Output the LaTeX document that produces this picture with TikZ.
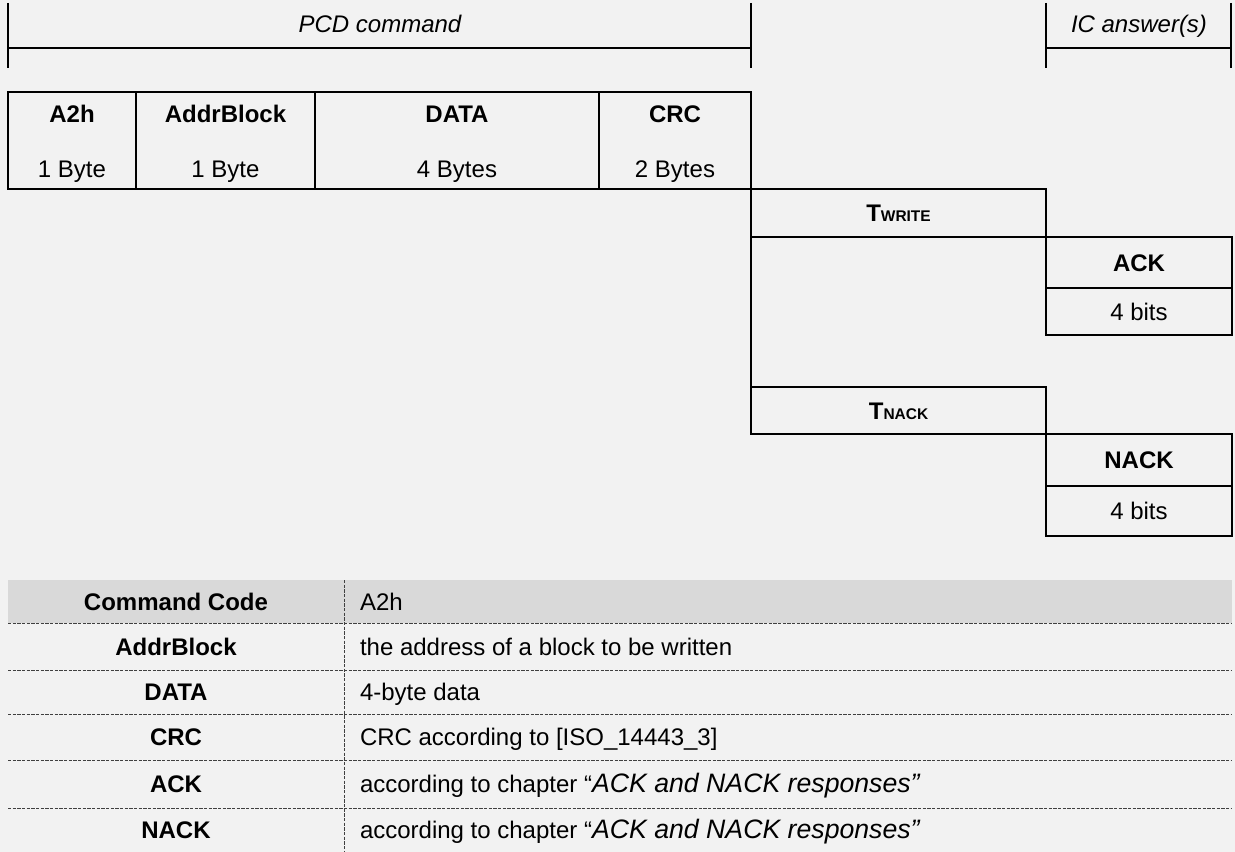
\documentclass[tikz,border=0pt]{standalone}
\usepackage{fontspec}
\setmainfont{Liberation Sans}
\definecolor{paper}{HTML}{F2F2F2}
\definecolor{headshade}{HTML}{D9D9D9}
\tikzset{
  plainnode/.style={inner sep=0pt, outer sep=0pt},
  txt/.style={plainnode, font=\fontsize{18pt}{21.6pt}\selectfont, text height=12.9pt, text depth=0pt},
  hdtxt/.style={txt, font=\fontsize{18pt}{21.6pt}\selectfont\itshape},
  strong/.style={txt, font=\fontsize{18pt}{21.6pt}\selectfont\bfseries},
  ink/.style={draw=black, line width=1.5pt},
  box/.style={plainnode, ink, anchor=north west},
  gridrule/.style={line width=0.75pt, draw=black!75, dash pattern=on 2.4pt off 1.1pt},
}
\newcommand{\timing}[1]{\textbf{T{\fontsize{11.6pt}{12pt}\selectfont #1}}}
\newcommand{\chapref}[1]{“{\fontsize{20pt}{24pt}\selectfont\itshape #1”}}
\begin{document}
\begin{tikzpicture}[x=0.75pt, y=-0.75pt]
\useasboundingbox (0,0) rectangle (1235,852);
\fill[paper] (0,0) rectangle (1235,852);

% --- direction headers ---
\node[hdtxt] (pcd) at (380,24) {PCD command};
\node[hdtxt] (ic)  at (1139,24) {IC answer(s)};
\coordinate (pcd lt) at (8,3);    \coordinate (pcd lb) at (8,68);
\coordinate (pcd rt) at (751,3);  \coordinate (pcd rb) at (751,68);
\coordinate (pcd ll) at (8,48);   \coordinate (pcd rl) at (751,48);
\coordinate (ic lt) at (1046,3);  \coordinate (ic lb) at (1046,68);
\coordinate (ic rt) at (1231,3);  \coordinate (ic rb) at (1231,68);
\coordinate (ic ll) at (1046,48); \coordinate (ic rl) at (1231,48);
\draw[ink] (pcd lt) -- (pcd lb) (pcd rt) -- (pcd rb) (pcd ll) -- (pcd rl);
\draw[ink] (ic lt) -- (ic lb) (ic rt) -- (ic rb) (ic ll) -- (ic rl);

% --- command frame ---
\node[box, minimum width=128*0.75pt, minimum height=97*0.75pt] (f a2h)  at (8,92)   {};
\node[box, minimum width=179*0.75pt, minimum height=97*0.75pt] (f addr) at (136,92) {};
\node[box, minimum width=284*0.75pt, minimum height=97*0.75pt] (f data) at (315,92) {};
\node[box, minimum width=152*0.75pt, minimum height=97*0.75pt] (f crc)  at (599,92) {};

\node[strong] (a2h name)  at (72,113.5)  {A2h};
\node[txt]    (a2h size)  at (72,169)    {1 Byte};
\node[strong] (addr name) at (225.5,113.5) {AddrBlock};
\node[txt]    (addr size) at (225.5,169)   {1 Byte};
\node[strong] (data name) at (457,113.5) {DATA};
\node[txt]    (data size) at (457,169)   {4 Bytes};
\node[strong] (crc name)  at (675,113.5) {CRC};
\node[txt]    (crc size)  at (675,169)   {2 Bytes};

% --- timings and answers ---
\node[box, txt, minimum width=295*0.75pt, minimum height=48*0.75pt] (twrite) at (751,189) {\timing{WRITE}};
\node[box, strong, minimum width=186*0.75pt, minimum height=51*0.75pt] (ack) at (1046,237) {ACK};
\node[box, txt, minimum width=186*0.75pt, minimum height=47*0.75pt] (ack bits) at (1046,288) {4 bits};

\node[box, txt, minimum width=295*0.75pt, minimum height=47*0.75pt] (tnack) at (751,387) {\timing{NACK}};
\node[box, strong, minimum width=186*0.75pt, minimum height=52*0.75pt] (nack) at (1046,434) {NACK};
\node[box, txt, minimum width=186*0.75pt, minimum height=50*0.75pt] (nack bits) at (1046,486) {4 bits};

\draw[ink] (f crc.south east) -- (tnack.south west);

% --- field description table ---
\fill[headshade] (8,580) rectangle (1232,623);
\foreach \ry in {623,670,714,760,808}
  \draw[gridrule] (8,\ry) -- (1232,\ry);
\draw[gridrule] (344,580) -- (344,852);

\node[strong] (k cmd)  at (176,601.5) {Command Code};
\node[strong] (k addr) at (176,646.5) {AddrBlock};
\node[strong] (k data) at (176,692)   {DATA};
\node[strong] (k crc)  at (176,737)   {CRC};
\node[strong] (k ack)  at (176,784)   {ACK};
\node[strong] (k nack) at (176,830)   {NACK};

\node[txt, anchor=west] (v cmd)  at (360,601.5) {A2h};
\node[txt, anchor=west] (v addr) at (360,646.5) {the address of a block to be written};
\node[txt, anchor=west] (v data) at (360,692)   {4-byte data};
\node[txt, anchor=west] (v crc)  at (360,737)   {CRC according to [ISO\_14443\_3]};
\node[txt, anchor=west] (v ack)  at (360,784)   {according to chapter \chapref{ACK and NACK responses}};
\node[txt, anchor=west] (v nack) at (360,830)   {according to chapter \chapref{ACK and NACK responses}};
\end{tikzpicture}
\end{document}
